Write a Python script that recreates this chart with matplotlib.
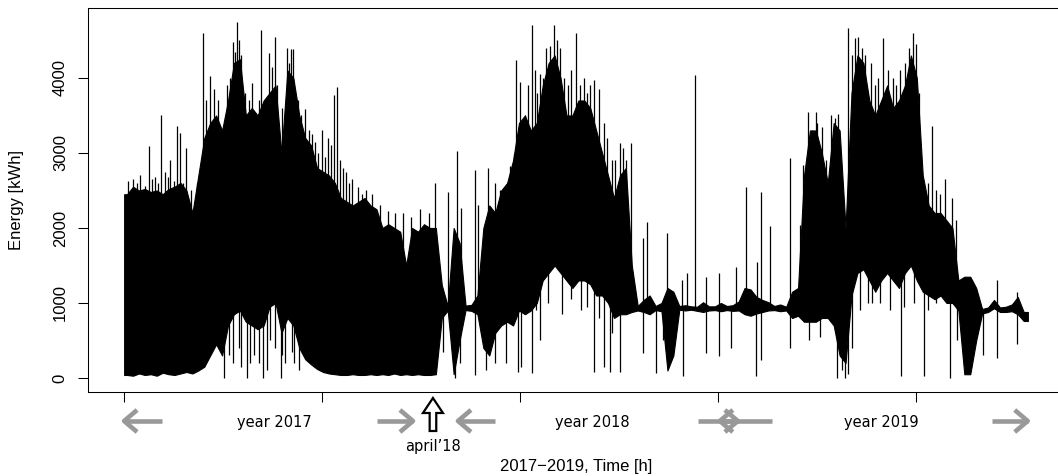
import numpy as np
import matplotlib
matplotlib.use("Agg")
import matplotlib.pyplot as plt
from matplotlib.patches import Polygon

# ---------------- data ----------------
n_hours = 22830          # length of the hourly series
bin_h = 150              # width (hours) of each envelope bin

# lower / upper envelope of the hourly energy in consecutive 150 h bins [kWh]
band_lo = [40, 30, 60, 40, 50, 30, 70, 50, 40, 60, 80,
           60, 100, 150, 300, 450, 300, 700, 850, 900, 750,
           700, 650, 700, 950, 1000, 600, 800, 700, 400, 250,
           180, 120, 80, 60, 50, 40, 40, 50, 40, 40,
           50, 40, 50, 40, 60, 40, 50, 40, 50, 40,
           40, 50, 800, 900, 50, 500, 905, 895, 850, 400,
           300, 600, 700, 750, 700, 900, 850, 900, 1000, 1300,
           1400, 1500, 1400, 1300, 1200, 1300, 1300, 1250, 1100, 1100,
           1000, 800, 850, 850, 880, 900, 880, 850, 905, 890,
           100, 300, 910, 900, 910, 895, 880, 900, 905, 890,
           905, 895, 900, 850, 830, 860, 880, 900, 905, 890,
           900, 800, 830, 750, 750, 750, 800, 800, 700, 300,
           200, 1100, 1400, 1450, 1300, 1150, 1300, 1400, 1300, 1200,
           1400, 1500, 1300, 1150, 1100, 1050, 1100, 1000, 1000, 900,
           50, 50, 500, 860, 880, 930, 880, 880, 890, 850, 760]
band_hi = [2450, 2550, 2500, 2520, 2480, 2500, 2450, 2520, 2550, 2600, 2500,
           2200, 2700, 3200, 3400, 3500, 3300, 3700, 4200, 4250, 3500,
           3600, 3500, 3700, 3800, 3900, 3000, 4100, 4000, 3500, 3200,
           3100, 2800, 2750, 2700, 2600, 2400, 2350, 2300, 2350, 2400,
           2300, 2250, 2000, 2050, 2000, 1950, 1500, 2000, 1950, 2050,
           2000, 2000, 1240, 960, 2000, 1800, 965, 975, 1100, 2000,
           2300, 2200, 2500, 2600, 2900, 3400, 3500, 3300, 3400, 3900,
           4200, 4300, 4000, 3500, 3500, 3700, 3700, 3600, 3300, 3000,
           2700, 2400, 2700, 2800, 1500, 960, 1040, 1100, 960, 1000,
           1200, 1150, 960, 970, 955, 950, 1010, 955, 955, 1000,
           960, 970, 1020, 1200, 1180, 1080, 1040, 1010, 960, 980,
           950, 1150, 1200, 2700, 3300, 3300, 3000, 2600, 3400, 3300,
           2000, 3800, 4300, 4200, 3700, 3500, 3700, 3900, 3600, 3700,
           3900, 4300, 4000, 2700, 2300, 2200, 2200, 2100, 2000, 1300,
           1350, 1350, 1200, 920, 940, 1040, 940, 950, 980, 1080, 880]

# isolated upward peaks: hour, value [kWh]
spike_up_hour = [100, 227, 330, 404, 520, 631, 700, 783, 860, 934, 1035, 1100,
                 1162, 1250, 1338, 1414, 1480, 1566, 1700, 1850,
                 1995, 2071, 2172, 2272, 2374, 2475, 2601, 2680,
                 2752, 2803, 2853, 2904, 2954, 3050, 3150, 3232, 3333, 3400, 3459, 3560,
                 3661, 3737, 3813, 3863, 3990, 4116, 4166, 4217, 4267,
                 4394, 4469, 4570, 4671, 4750, 4823, 4900, 5000, 5080, 5151, 5227,
                 5303, 5378, 5450, 5520,
                 5606, 5680, 5757, 5909, 6000, 6111, 6250, 6464, 6666, 6843, 7050,
                 7247, 7474, 7701, 7853,
                 8181, 8408, 8509, 8863, 8939, 9191, 9368, 9494, 9646, 9747,
                 9848, 9898, 9999, 10125, 10200, 10302, 10380, 10428, 10500, 10580,
                 10656, 10757, 10858, 10933, 11009, 11110, 11211, 11300, 11413, 11514,
                 11615, 11700, 11767, 11868, 11994, 12120, 12200, 12322, 12400, 12524,
                 12600, 12676, 12802,
                 13105, 13206, 13711, 14090, 14216, 14418, 14696, 15024, 15453, 15706,
                 15983, 16084, 16312, 16817, 17069,
                 17145, 17271, 17372, 17473, 17498, 17624, 17726, 17852, 17953, 18029,
                 18104, 18281, 18382, 18458, 18534, 18635, 18710, 18862, 18963, 19050,
                 19165, 19291, 19417, 19493, 19594, 19720, 19821, 19922, 19998, 20074,
                 20300, 20402, 20500, 20604, 20730, 20907, 21008, 22043, 22548]
spike_up_val = [2620, 2650, 2600, 2700, 2560, 3090, 2650, 2680, 2600, 3510, 2750, 2680,
                2900, 2620, 3355, 3270, 2600, 3070, 2500, 2600,
                4600, 3700, 4020, 3850, 3700, 3250, 3900, 4000,
                4480, 4350, 4740, 4500, 4300, 3800, 3700, 3930, 3300, 3700, 4640, 3550,
                4330, 4150, 4550, 3900, 3600, 4400, 4200, 4390, 4380,
                3700, 3500, 3580, 3300, 3250, 3150, 3000, 3310, 2950, 3200, 3100,
                3770, 3880, 2900, 2800,
                2750, 2600, 2650, 2550, 2450, 2500, 2450, 2300, 2230, 2200, 2200,
                2150, 2250, 2200, 2595,
                2484, 3020, 2260, 2773, 2306, 2795, 2600, 2500, 2550, 2820,
                2980, 4240, 3950, 3500, 3900, 4707, 4100, 3800, 4050, 4000,
                4400, 4420, 4707, 4500, 4400, 4000, 3900, 4100, 4595, 3900,
                4000, 3800, 3900, 3973, 3850, 3400, 3200, 2900, 2900, 3130,
                3060, 2900, 3130,
                1860, 2084, 1929, 1300, 1400, 4040, 1350, 1400, 1484, 2551,
                1550, 2484, 2030, 2929, 2040,
                2840, 3551, 3300, 3550, 3395, 3350, 2900, 3500, 3460, 3520,
                2200, 4662, 4300, 4529, 4550, 4400, 4300, 4200, 3900, 4000,
                4533, 4100, 4000, 3900, 4107, 4200, 4400, 4600, 4450, 3800,
                2600, 3355, 2500, 2450, 2650, 2400, 2100, 1311, 1150]

# isolated downward drops: hour, value [kWh]
spike_dn_hour = [2525, 2650, 2752, 2904, 2950, 3106, 3182, 3283, 3400, 3510, 3600,
                 3687, 3800, 3964, 4000, 4065, 4242, 4300, 4419,
                 8055, 8358, 8484, 8863, 9141, 9368, 9646, 9949, 10024, 10302, 10400,
                 10504, 10700, 11050, 11300, 11550, 11700,
                 11868, 12000, 12120, 12272, 12524, 12322, 13105, 13433, 13610, 14115, 14696,
                 15024, 15327, 15958, 16084, 16817,
                 17296, 17574, 18003, 18130, 18205, 18281, 18382, 18600, 18786, 18900,
                 19100, 19350, 19619, 19700, 19950, 20200, 20300, 20500,
                 20857, 21033, 21690, 22043, 22548]
spike_dn_val = [0, 300, 200, 400, 150, 0, 200, 300, 200, 0, 100,
                500, 400, 0, 300, 200, 350, 200, 100,
                350, 0, 200, 40, 100, 200, 200, 85, 150, 60, 900,
                500, 1000, 850, 1050, 900, 950,
                85, 800, 150, 80, 80, 600, 329, 60, 500, 20, 330,
                290, 400, 20, 240, 400,
                500, 550, 0, 100, 0, 50, 400, 900, 1000, 1000,
                1000, 900, 20, 950, 1000, 20, 900, 1000,
                0, 500, 300, 270, 450]

x_ticks = [0, 5000, 10000, 15000, 20000]
y_ticks = [0, 1000, 2000, 3000, 4000]
year_labels = ["year 2017", "year 2018", "year 2019"]
year_label_hour = [3788, 11817, 19140]
marker_label = "april\u201918"
marker_hour = 7802
# (tail, tip) of the period arrows, in hours
period_arrows = [(960, 0), (6388, 7297), (9368, 8434), (14494, 15504),
                 (16362, 15049), (21917, 22826)]

# ---------------- figure ----------------
W, H = 1058, 476
plt.rcParams['font.family'] = ['Liberation Sans', 'DejaVu Sans']
fig = plt.figure(figsize=(W / 100, H / 100), dpi=100)
ax = fig.add_axes([88 / W, (H - 392) / H, (1064 - 88) / W, (392 - 8) / H])

centers = np.arange(len(band_lo)) * bin_h + bin_h / 2
xb = np.r_[1, centers, n_hours]
lo = np.r_[band_lo[0], band_lo, band_lo[-1]].astype(float)
hi = np.r_[band_hi[0], band_hi, band_hi[-1]].astype(float)
mid = (lo + hi) / 2

ax.fill_between(xb, lo, hi, facecolor='black', edgecolor='black', lw=0.8)
ax.vlines(spike_up_hour, np.interp(spike_up_hour, xb, mid), spike_up_val,
          color='black', lw=0.9)
ax.vlines(spike_dn_hour, np.interp(spike_dn_hour, xb, mid), spike_dn_val,
          color='black', lw=0.9)

ax.set_xlim(-912, 23743)
ax.set_ylim(-187, 4933)
ax.set_xticks(x_ticks)
ax.set_xticklabels([])
ax.set_yticks(y_ticks)
ax.set_yticklabels([str(v) for v in y_ticks])
ax.tick_params(axis='both', direction='out', length=7.5, width=0.75, color='black')
ax.tick_params(axis='y', pad=7, labelsize=12)
for lab in ax.get_yticklabels():
    lab.set_rotation(90)
    lab.set_va('center')
for sp in ax.spines.values():
    sp.set_linewidth(0.75)
    sp.set_color('black')

# overlay in pixel coordinates for annotations below the axis
ov = fig.add_axes([0, 0, 1, 1])
ov.set_xlim(0, W)
ov.set_ylim(H, 0)
ov.axis('off')
ov.patch.set_alpha(0)


def hx(h):
    return ax.transData.transform((h, 0))[0]


ya = 421
grey = '#999999'
for tail, tip in period_arrows:
    xt, xp = hx(tail), hx(tip)
    s = 1 if xp > xt else -1
    ov.plot([xt, xp], [ya, ya], color=grey, lw=3.3, solid_capstyle='butt')
    ov.plot([xp - s * 13, xp, xp - s * 13], [ya - 11, ya, ya + 11], color=grey,
            lw=3.3, solid_capstyle='butt', solid_joinstyle='round')

for lab, h in zip(year_labels, year_label_hour):
    ov.text(hx(h), 422, lab, ha='center', va='center', fontsize=10.5,
            family=['DejaVu Sans'])

xc = hx(marker_hour)
poly = Polygon([(xc, 398), (xc + 10, 413), (xc + 3.3, 413), (xc + 3.3, 431),
                (xc - 3.3, 431), (xc - 3.3, 413), (xc - 10, 413)], closed=True,
               facecolor='white', edgecolor='black', lw=1.6, joinstyle='miter')
ov.add_patch(poly)
ov.text(xc, 447, marker_label, ha='center', va='center', fontsize=10.5,
        family=['DejaVu Sans'])

ov.text(576, 466, "2017\u22122019, Time [h]", ha='center', va='center', fontsize=12)
ov.text(17, 200, "Energy [kWh]", ha='center', va='center', fontsize=12, rotation=90)

fig.savefig("out.png", dpi=100)
